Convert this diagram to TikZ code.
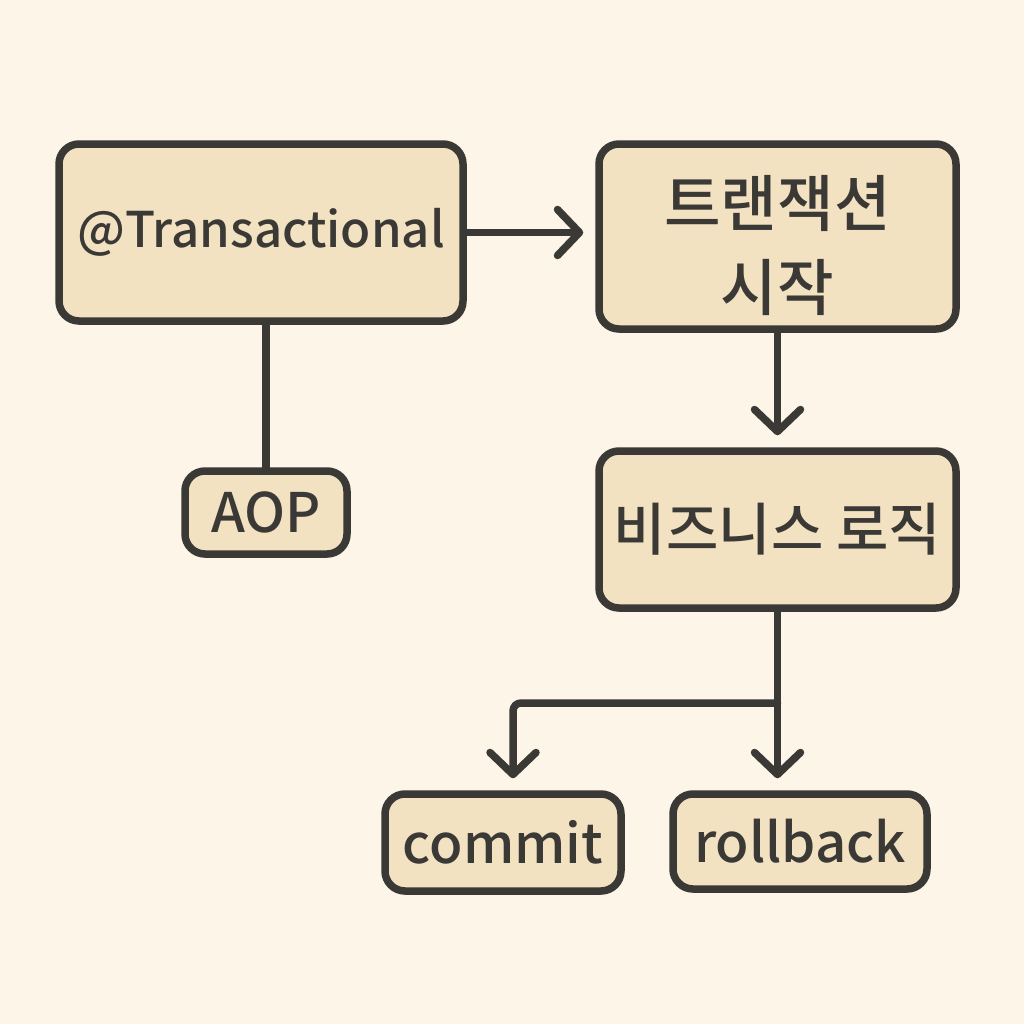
\documentclass[tikz,border=0pt]{standalone}
\usepackage{xcolor}
\usepackage{fontspec}
\setmainfont{Noto Sans CJK KR}[UprightFont={* Medium}]
\usetikzlibrary{arrows.meta}
\definecolor{paper}{HTML}{FDF5E7}
\definecolor{boxfill}{HTML}{F3E2C2}
\definecolor{ink}{HTML}{3B3935}

\begin{document}
\begin{tikzpicture}[x=1cm,y=1cm,
  every node/.style={font=\fontsize{15.5}{19}\selectfont,text=ink},
  box/.style={draw=ink,fill=boxfill,line width=0.075cm,rounded corners=0.2cm,inner sep=0pt,align=center},
  hangul/.style={font=\fontsize{17.5}{24}\selectfont},
  link/.style={draw=ink,line width=0.075cm,line cap=round,line join=round},
  arr/.style={link,-{Straight Barb[length=0.22cm,width=0.46cm,line cap=round,line join=round]},shorten >=0.12cm}]
  \fill[paper] (0,0) rectangle (10.24,-10.24);
  \useasboundingbox (0,0) rectangle (10.24,-10.24);
  \node[box,minimum width=4.04cm,minimum height=1.77cm,font=\fontsize{14}{17}\selectfont] (trans) at (2.61,-2.325) {@Transactional};
  \node[box,hangul,minimum width=3.57cm,minimum height=1.85cm] (start) at (7.775,-2.365)
    {\raisebox{-0.15cm}[\height][\depth]{\begin{tabular}{@{}c@{}}트랜잭션\\시작\end{tabular}}};
  \node[box,minimum width=1.62cm,minimum height=0.83cm] (aop) at (2.66,-5.125) {AOP};
  \node[box,hangul,font=\fontsize{16.2}{20}\selectfont,minimum width=3.57cm,minimum height=1.57cm] (biz) at (7.775,-5.295) {비즈니스 로직};
  \node[box,minimum width=2.36cm,minimum height=0.97cm] (commit) at (5.03,-8.425) {commit};
  \node[box,minimum width=2.54cm,minimum height=0.95cm] (rollback) at (8.0,-8.415) {rollback};
  \coordinate (split) at (7.775,-7.03);
  \draw[arr] (trans.east) -- (trans.east -| start.west);
  \draw[arr] (start.south) -- (biz.north);
  \draw[link] (trans.south -| aop.north) -- (aop.north);
  \draw[link] (biz.south) -- (split);
  \draw[arr] (split) -- (split |- rollback.north);
  \draw[arr,rounded corners=0.08cm] (split) -| ([xshift=0.1cm]commit.north);
\end{tikzpicture}
\end{document}
